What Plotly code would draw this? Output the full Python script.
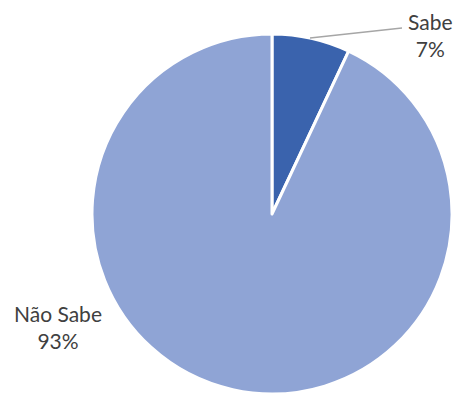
import plotly.graph_objects as go

labels = ["Sabe", "Não Sabe"]
values = [7, 93]
colors = ["#3A63AD", "#8FA4D5"]

W, H = 456, 394

def px(x):
    return x / W

def py(y):
    return 1 - y / H

fig = go.Figure(go.Pie(
    labels=labels,
    values=values,
    sort=False,
    direction="clockwise",
    rotation=0,
    textinfo="none",
    hoverinfo="label+percent",
    marker=dict(colors=colors, line=dict(color="white", width=3)),
    domain=dict(x=[px(92), px(452)], y=[0, py(34)]),
    showlegend=False,
))

pct = [round(100 * v / sum(values)) for v in values]
label_pos = [(430, 35), (58, 327)]
for lab, p, (x, y) in zip(labels, pct, label_pos):
    fig.add_annotation(
        x=px(x), y=py(y), xref="paper", yref="paper",
        text=f"{lab}<br>{p}%", showarrow=False,
        font=dict(family="Lato", size=21, color="#404040"),
        align="center", xanchor="center", yanchor="middle",
    )

fig.add_shape(type="line", xref="paper", yref="paper",
              x0=px(310), y0=py(38), x1=px(402), y1=py(28),
              line=dict(color="#A6A6A6", width=1.5))

fig.update_layout(
    width=W, height=H,
    margin=dict(l=0, r=0, t=0, b=0),
    paper_bgcolor="white",
    plot_bgcolor="white",
)

fig.write_html(
    "out.html",
    config={"displayModeBar": False},
    post_script="document.documentElement.style.overflow='hidden';"
                "document.body.style.margin='0';document.body.style.overflow='hidden';",
)
